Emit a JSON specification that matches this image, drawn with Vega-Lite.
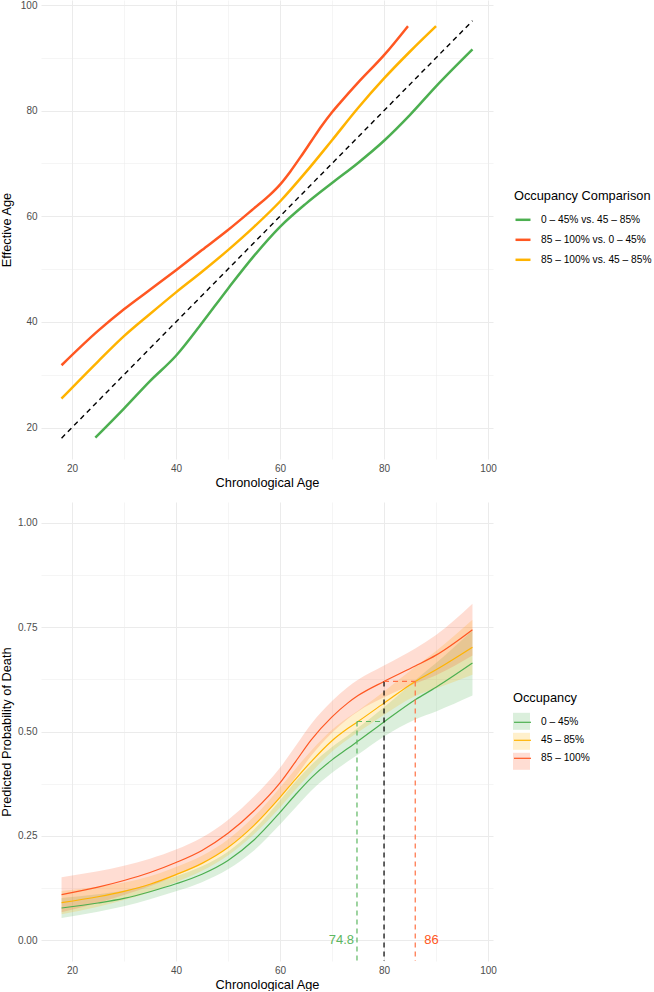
{
  "$schema": "https://vega.github.io/schema/vega-lite/v6.json",
  "padding": {"left": 0, "top": 0, "right": 0, "bottom": 0},
  "autosize": {"type": "pad"},
  "background": "white",
  "config": {
    "font": "Liberation Sans",
    "view": {"stroke": null},
    "axis": {
      "domain": false,
      "ticks": false,
      "labelFontSize": 10,
      "labelColor": "#4d4d4d",
      "labelPadding": 4,
      "titleFontSize": 12.8,
      "titleFontWeight": "normal",
      "titleColor": "black",
      "gridColor": "#EBEBEB"
    },
    "legend": {
      "titleFontWeight": "normal",
      "titleColor": "black",
      "titleFontSize": 12.8,
      "labelFontSize": 10.2,
      "labelColor": "black"
    }
  },
  "spacing": 43,
  "bounds": "flush",
  "resolve": {
    "scale": {"color": "independent", "fill": "independent"},
    "legend": {"color": "independent", "fill": "independent"}
  },
  "vconcat": [
    {
      "width": 452,
      "height": 459,
      "layer": [
        {
          "data": {
            "values": [
              {"age": 24.5, "eff": 18.1, "comparison": "0 – 45% vs. 45 – 85%"},
              {"age": 30, "eff": 23.6, "comparison": "0 – 45% vs. 45 – 85%"},
              {"age": 35, "eff": 28.8, "comparison": "0 – 45% vs. 45 – 85%"},
              {"age": 40, "eff": 33.6, "comparison": "0 – 45% vs. 45 – 85%"},
              {"age": 45, "eff": 39.8, "comparison": "0 – 45% vs. 45 – 85%"},
              {"age": 50, "eff": 46.3, "comparison": "0 – 45% vs. 45 – 85%"},
              {"age": 55, "eff": 52.5, "comparison": "0 – 45% vs. 45 – 85%"},
              {"age": 60, "eff": 58.0, "comparison": "0 – 45% vs. 45 – 85%"},
              {"age": 65, "eff": 62.4, "comparison": "0 – 45% vs. 45 – 85%"},
              {"age": 70, "eff": 66.3, "comparison": "0 – 45% vs. 45 – 85%"},
              {"age": 75, "eff": 70.1, "comparison": "0 – 45% vs. 45 – 85%"},
              {"age": 80, "eff": 74.3, "comparison": "0 – 45% vs. 45 – 85%"},
              {"age": 85, "eff": 79.2, "comparison": "0 – 45% vs. 45 – 85%"},
              {"age": 90, "eff": 84.6, "comparison": "0 – 45% vs. 45 – 85%"},
              {"age": 97, "eff": 91.6, "comparison": "0 – 45% vs. 45 – 85%"},
              {"age": 18, "eff": 31.8, "comparison": "85 – 100% vs. 0 – 45%"},
              {"age": 25, "eff": 38.3, "comparison": "85 – 100% vs. 0 – 45%"},
              {"age": 30, "eff": 42.4, "comparison": "85 – 100% vs. 0 – 45%"},
              {"age": 35, "eff": 46.1, "comparison": "85 – 100% vs. 0 – 45%"},
              {"age": 40, "eff": 49.8, "comparison": "85 – 100% vs. 0 – 45%"},
              {"age": 45, "eff": 53.6, "comparison": "85 – 100% vs. 0 – 45%"},
              {"age": 50, "eff": 57.4, "comparison": "85 – 100% vs. 0 – 45%"},
              {"age": 55, "eff": 61.5, "comparison": "85 – 100% vs. 0 – 45%"},
              {"age": 58, "eff": 64.0, "comparison": "85 – 100% vs. 0 – 45%"},
              {"age": 60, "eff": 66.0, "comparison": "85 – 100% vs. 0 – 45%"},
              {"age": 62, "eff": 68.5, "comparison": "85 – 100% vs. 0 – 45%"},
              {"age": 64, "eff": 71.3, "comparison": "85 – 100% vs. 0 – 45%"},
              {"age": 66, "eff": 74.2, "comparison": "85 – 100% vs. 0 – 45%"},
              {"age": 68, "eff": 77.1, "comparison": "85 – 100% vs. 0 – 45%"},
              {"age": 70, "eff": 79.7, "comparison": "85 – 100% vs. 0 – 45%"},
              {"age": 72, "eff": 82.0, "comparison": "85 – 100% vs. 0 – 45%"},
              {"age": 75, "eff": 85.3, "comparison": "85 – 100% vs. 0 – 45%"},
              {"age": 80, "eff": 90.5, "comparison": "85 – 100% vs. 0 – 45%"},
              {"age": 84.6, "eff": 96.0, "comparison": "85 – 100% vs. 0 – 45%"},
              {"age": 18, "eff": 25.5, "comparison": "85 – 100% vs. 45 – 85%"},
              {"age": 25, "eff": 32.5, "comparison": "85 – 100% vs. 45 – 85%"},
              {"age": 30, "eff": 37.3, "comparison": "85 – 100% vs. 45 – 85%"},
              {"age": 35, "eff": 41.5, "comparison": "85 – 100% vs. 45 – 85%"},
              {"age": 40, "eff": 45.6, "comparison": "85 – 100% vs. 45 – 85%"},
              {"age": 45, "eff": 49.5, "comparison": "85 – 100% vs. 45 – 85%"},
              {"age": 50, "eff": 53.6, "comparison": "85 – 100% vs. 45 – 85%"},
              {"age": 55, "eff": 58.0, "comparison": "85 – 100% vs. 45 – 85%"},
              {"age": 60, "eff": 62.8, "comparison": "85 – 100% vs. 45 – 85%"},
              {"age": 65, "eff": 68.4, "comparison": "85 – 100% vs. 45 – 85%"},
              {"age": 70, "eff": 74.4, "comparison": "85 – 100% vs. 45 – 85%"},
              {"age": 75, "eff": 80.5, "comparison": "85 – 100% vs. 45 – 85%"},
              {"age": 80, "eff": 86.1, "comparison": "85 – 100% vs. 45 – 85%"},
              {"age": 85, "eff": 91.2, "comparison": "85 – 100% vs. 45 – 85%"},
              {"age": 90, "eff": 96.0, "comparison": "85 – 100% vs. 45 – 85%"}
            ]
          },
          "mark": {"type": "line", "strokeWidth": 2.5, "interpolate": "monotone"},
          "encoding": {
            "x": {
              "field": "age", "type": "quantitative", "title": "Chronological Age",
              "scale": {"domain": [14.05, 100.95], "nice": false, "zero": false},
              "axis": {
                "values": [20, 30, 40, 50, 60, 70, 80, 90, 100],
                "labelExpr": "datum.value % 20 === 0 ? datum.label : ''",
                "gridWidth": {"condition": {"test": "datum.value % 20 === 0", "value": 1}, "value": 0.5},
                "titlePadding": 3
              }
            },
            "y": {
              "field": "eff", "type": "quantitative", "title": "Effective Age",
              "scale": {"domain": [14.05, 100.95], "nice": false, "zero": false},
              "axis": {
                "values": [20, 30, 40, 50, 60, 70, 80, 90, 100],
                "labelExpr": "datum.value % 20 === 0 ? datum.label : ''",
                "gridWidth": {"condition": {"test": "datum.value % 20 === 0", "value": 1}, "value": 0.5},
                "titleX": -28
              }
            },
            "color": {
              "field": "comparison", "type": "nominal",
              "scale": {
                "domain": ["0 – 45% vs. 45 – 85%", "85 – 100% vs. 0 – 45%", "85 – 100% vs. 45 – 85%"],
                "range": ["#4CAF50", "#FF5722", "#FFB300"]
              },
              "legend": {
                "orient": "none", "legendX": 473, "legendY": 190,
                "title": "Occupancy Comparison",
                "symbolType": "stroke", "symbolSize": 225, "symbolStrokeWidth": 2.5,
                "rowPadding": 5, "titlePadding": 8, "labelOffset": 9
              }
            }
          }
        },
        {
          "data": {"values": [{"age": 18, "eff": 18}, {"age": 97, "eff": 97}]},
          "mark": {"type": "line", "color": "black", "strokeWidth": 1.4, "strokeDash": [5, 4]},
          "encoding": {
            "x": {"field": "age", "type": "quantitative"},
            "y": {"field": "eff", "type": "quantitative"}
          }
        }
      ]
    },
    {
      "width": 452,
      "height": 459,
      "data": {
        "values": [
          {"age": 18, "occ": "0 – 45%", "band": "low", "p": 0.077, "lo": 0.053, "hi": 0.101},
          {"age": 25, "occ": "0 – 45%", "band": "low", "p": 0.089, "lo": 0.068, "hi": 0.110},
          {"age": 30, "occ": "0 – 45%", "band": "low", "p": 0.100, "lo": 0.081, "hi": 0.119},
          {"age": 35, "occ": "0 – 45%", "band": "low", "p": 0.116, "lo": 0.098, "hi": 0.134},
          {"age": 40, "occ": "0 – 45%", "band": "low", "p": 0.135, "lo": 0.117, "hi": 0.153},
          {"age": 45, "occ": "0 – 45%", "band": "low", "p": 0.158, "lo": 0.139, "hi": 0.177},
          {"age": 50, "occ": "0 – 45%", "band": "low", "p": 0.191, "lo": 0.170, "hi": 0.212},
          {"age": 55, "occ": "0 – 45%", "band": "low", "p": 0.240, "lo": 0.215, "hi": 0.265},
          {"age": 60, "occ": "0 – 45%", "band": "low", "p": 0.306, "lo": 0.277, "hi": 0.335},
          {"age": 63, "occ": "0 – 45%", "band": "low", "p": 0.349, "lo": 0.318, "hi": 0.380},
          {"age": 66, "occ": "0 – 45%", "band": "low", "p": 0.389, "lo": 0.358, "hi": 0.420},
          {"age": 70, "occ": "0 – 45%", "band": "low", "p": 0.432, "lo": 0.401, "hi": 0.463},
          {"age": 73, "occ": "0 – 45%", "band": "low", "p": 0.459, "lo": 0.428, "hi": 0.490},
          {"age": 75, "occ": "0 – 45%", "band": "low", "p": 0.477, "lo": 0.445, "hi": 0.509},
          {"age": 80, "occ": "0 – 45%", "band": "low", "p": 0.523, "lo": 0.488, "hi": 0.558},
          {"age": 86, "occ": "0 – 45%", "band": "low", "p": 0.576, "lo": 0.529, "hi": 0.623},
          {"age": 90, "occ": "0 – 45%", "band": "low", "p": 0.606, "lo": 0.548, "hi": 0.664},
          {"age": 97, "occ": "0 – 45%", "band": "low", "p": 0.664, "lo": 0.586, "hi": 0.742},
          {"age": 18, "occ": "45 – 85%", "band": "mid", "p": 0.090, "lo": 0.062, "hi": 0.118},
          {"age": 25, "occ": "45 – 85%", "band": "mid", "p": 0.104, "lo": 0.080, "hi": 0.128},
          {"age": 30, "occ": "45 – 85%", "band": "mid", "p": 0.117, "lo": 0.096, "hi": 0.138},
          {"age": 35, "occ": "45 – 85%", "band": "mid", "p": 0.134, "lo": 0.115, "hi": 0.153},
          {"age": 40, "occ": "45 – 85%", "band": "mid", "p": 0.157, "lo": 0.139, "hi": 0.175},
          {"age": 45, "occ": "45 – 85%", "band": "mid", "p": 0.184, "lo": 0.166, "hi": 0.202},
          {"age": 50, "occ": "45 – 85%", "band": "mid", "p": 0.222, "lo": 0.203, "hi": 0.241},
          {"age": 55, "occ": "45 – 85%", "band": "mid", "p": 0.275, "lo": 0.254, "hi": 0.296},
          {"age": 60, "occ": "45 – 85%", "band": "mid", "p": 0.342, "lo": 0.318, "hi": 0.366},
          {"age": 63, "occ": "45 – 85%", "band": "mid", "p": 0.386, "lo": 0.361, "hi": 0.411},
          {"age": 66, "occ": "45 – 85%", "band": "mid", "p": 0.428, "lo": 0.402, "hi": 0.454},
          {"age": 70, "occ": "45 – 85%", "band": "mid", "p": 0.478, "lo": 0.452, "hi": 0.504},
          {"age": 73, "occ": "45 – 85%", "band": "mid", "p": 0.507, "lo": 0.481, "hi": 0.533},
          {"age": 75, "occ": "45 – 85%", "band": "mid", "p": 0.524, "lo": 0.498, "hi": 0.550},
          {"age": 80, "occ": "45 – 85%", "band": "mid", "p": 0.568, "lo": 0.540, "hi": 0.596},
          {"age": 86, "occ": "45 – 85%", "band": "mid", "p": 0.620, "lo": 0.585, "hi": 0.655},
          {"age": 90, "occ": "45 – 85%", "band": "mid", "p": 0.648, "lo": 0.603, "hi": 0.693},
          {"age": 97, "occ": "45 – 85%", "band": "mid", "p": 0.702, "lo": 0.636, "hi": 0.768},
          {"age": 18, "occ": "85 – 100%", "band": "high", "p": 0.109, "lo": 0.067, "hi": 0.151},
          {"age": 25, "occ": "85 – 100%", "band": "high", "p": 0.127, "lo": 0.089, "hi": 0.165},
          {"age": 30, "occ": "85 – 100%", "band": "high", "p": 0.143, "lo": 0.108, "hi": 0.178},
          {"age": 35, "occ": "85 – 100%", "band": "high", "p": 0.162, "lo": 0.129, "hi": 0.195},
          {"age": 40, "occ": "85 – 100%", "band": "high", "p": 0.186, "lo": 0.155, "hi": 0.217},
          {"age": 45, "occ": "85 – 100%", "band": "high", "p": 0.215, "lo": 0.184, "hi": 0.246},
          {"age": 50, "occ": "85 – 100%", "band": "high", "p": 0.256, "lo": 0.224, "hi": 0.288},
          {"age": 55, "occ": "85 – 100%", "band": "high", "p": 0.310, "lo": 0.276, "hi": 0.344},
          {"age": 60, "occ": "85 – 100%", "band": "high", "p": 0.377, "lo": 0.341, "hi": 0.413},
          {"age": 63, "occ": "85 – 100%", "band": "high", "p": 0.428, "lo": 0.391, "hi": 0.465},
          {"age": 66, "occ": "85 – 100%", "band": "high", "p": 0.480, "lo": 0.442, "hi": 0.518},
          {"age": 70, "occ": "85 – 100%", "band": "high", "p": 0.535, "lo": 0.497, "hi": 0.573},
          {"age": 73, "occ": "85 – 100%", "band": "high", "p": 0.568, "lo": 0.530, "hi": 0.606},
          {"age": 75, "occ": "85 – 100%", "band": "high", "p": 0.586, "lo": 0.548, "hi": 0.624},
          {"age": 80, "occ": "85 – 100%", "band": "high", "p": 0.620, "lo": 0.582, "hi": 0.658},
          {"age": 86, "occ": "85 – 100%", "band": "high", "p": 0.657, "lo": 0.615, "hi": 0.699},
          {"age": 90, "occ": "85 – 100%", "band": "high", "p": 0.683, "lo": 0.635, "hi": 0.731},
          {"age": 97, "occ": "85 – 100%", "band": "high", "p": 0.744, "lo": 0.682, "hi": 0.806}
        ]
      },
      "layer": [
        {
          "mark": {"type": "area", "opacity": 0.2, "interpolate": "monotone"},
          "encoding": {
            "x": {
              "field": "age", "type": "quantitative", "title": "Chronological Age",
              "scale": {"domain": [14.05, 100.95], "nice": false, "zero": false},
              "axis": {
                "values": [20, 30, 40, 50, 60, 70, 80, 90, 100],
                "labelExpr": "datum.value % 20 === 0 ? datum.label : ''",
                "gridWidth": {"condition": {"test": "datum.value % 20 === 0", "value": 1}, "value": 0.5},
                "titlePadding": 3
              }
            },
            "y": {
              "field": "lo", "type": "quantitative", "title": "Predicted Probability of Death",
              "scale": {"domain": [-0.05, 1.05], "nice": false, "zero": false},
              "axis": {
                "values": [0, 0.125, 0.25, 0.375, 0.5, 0.625, 0.75, 0.875, 1],
                "format": ".2f",
                "labelExpr": "datum.value % 0.25 === 0 ? datum.label : ''",
                "gridWidth": {"condition": {"test": "datum.value % 0.25 === 0", "value": 1}, "value": 0.5},
                "titleX": -28
              }
            },
            "y2": {"field": "hi"},
            "fill": {
              "field": "band", "type": "nominal",
              "scale": {"domain": ["low", "mid", "high"], "range": ["#4CAF50", "#FFB300", "#FF5722"]},
              "legend": {
                "orient": "none", "legendX": 472, "legendY": 190,
                "title": "Occupancy", "titleOpacity": 0, "labelExpr": "''",
                "symbolType": "square", "symbolSize": 289, "symbolOpacity": 0.2, "symbolStrokeWidth": 0,
                "rowPadding": 3, "titlePadding": 8, "labelOffset": 9
              }
            }
          }
        },
        {
          "mark": {"type": "line", "strokeWidth": 1.2, "interpolate": "monotone"},
          "encoding": {
            "x": {"field": "age", "type": "quantitative"},
            "y": {"field": "p", "type": "quantitative"},
            "color": {
              "field": "occ", "type": "nominal",
              "scale": {"domain": ["0 – 45%", "45 – 85%", "85 – 100%"], "range": ["#4CAF50", "#FFB300", "#FF5722"]},
              "legend": {
                "orient": "none", "legendX": 472, "legendY": 190,
                "title": "Occupancy",
                "symbolType": "stroke", "symbolSize": 289, "symbolStrokeWidth": 1.2,
                "rowPadding": 3, "titlePadding": 8, "labelOffset": 9
              }
            }
          }
        },
        {
          "data": {
            "values": [
              {"x": 74.8, "y": 0.524, "kind": "green"},
              {"x": 80, "y": 0.62, "kind": "black"},
              {"x": 86, "y": 0.62, "kind": "red"}
            ]
          },
          "mark": {"type": "rule", "strokeWidth": 1.2, "strokeDash": [5, 4]},
          "encoding": {
            "x": {"field": "x", "type": "quantitative"},
            "y": {"field": "y", "type": "quantitative"},
            "y2": {"datum": -0.05},
            "stroke": {"field": "kind", "type": "nominal", "scale": {"domain": ["green", "black", "red"], "range": ["#5DB761", "#000000", "#FF7043"]}, "legend": null}
          }
        },
        {
          "data": {
            "values": [
              {"x": 74.8, "x2": 80, "y": 0.524, "kind": "green"},
              {"x": 80, "x2": 86, "y": 0.62, "kind": "red"}
            ]
          },
          "mark": {"type": "rule", "strokeWidth": 1.2, "strokeDash": [5, 4]},
          "encoding": {
            "x": {"field": "x", "type": "quantitative"},
            "x2": {"field": "x2"},
            "y": {"field": "y", "type": "quantitative"},
            "stroke": {"field": "kind", "type": "nominal", "scale": {"domain": ["green", "black", "red"], "range": ["#5DB761", "#000000", "#FF7043"]}, "legend": null}
          }
        },
        {
          "data": {"values": [{"x": 74.8, "y": 0, "label": "74.8"}]},
          "mark": {"type": "text", "align": "right", "baseline": "middle", "dx": -3, "fontSize": 13, "color": "#5DB761"},
          "encoding": {
            "x": {"field": "x", "type": "quantitative"},
            "y": {"field": "y", "type": "quantitative"},
            "text": {"field": "label"}
          }
        },
        {
          "data": {"values": [{"x": 86, "y": 0, "label": "86"}]},
          "mark": {"type": "text", "align": "left", "baseline": "middle", "dx": 9, "fontSize": 13, "color": "#FF5722"},
          "encoding": {
            "x": {"field": "x", "type": "quantitative"},
            "y": {"field": "y", "type": "quantitative"},
            "text": {"field": "label"}
          }
        }
      ]
    }
  ]
}
